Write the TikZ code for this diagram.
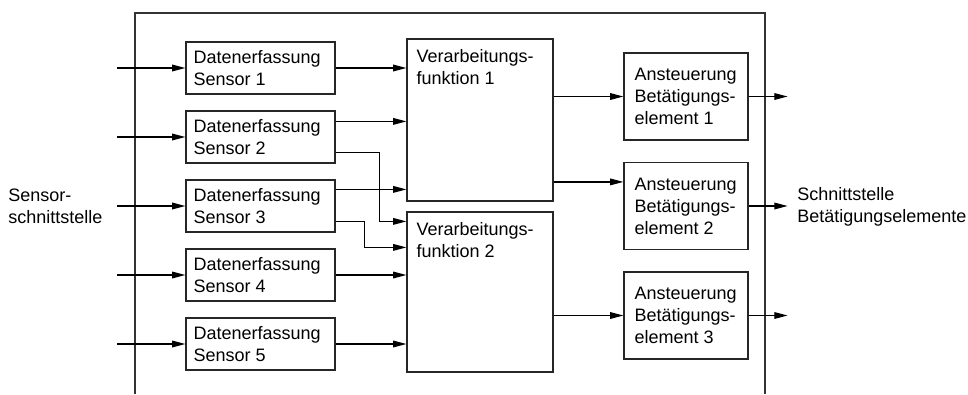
\documentclass[tikz,border=0pt]{standalone}
\usepackage{fontspec}
\setmainfont{Liberation Sans}
\usetikzlibrary{arrows.meta,calc}
\begin{document}
\begin{tikzpicture}[x=0.75pt,y=-0.75pt,
  blk/.style={draw=black!85,line width=0.9pt,inner sep=0pt},
  sbox/.style={blk,minimum width=111.75pt,minimum height=39pt},
  vbox/.style={blk,minimum width=109.5pt},
  abox/.style={blk,minimum width=93pt,minimum height=65.25pt},
  lbl/.style={inner sep=0pt,align=left,font=\fontsize{13.5}{16.5}\selectfont},
  conn/.style={line width=0.9pt,-{Triangle[length=10pt,width=5pt]}},
  frm/.style={line width=0.8pt,draw=black!80}]
\useasboundingbox (0,0) rectangle (968,394);

% frame
\draw[frm] (135,394) -- (135,13) -- (765,13) -- (765,394);

% sensor boxes
\node[sbox] (s1) at (260.5,68) {};
\node[sbox] (s2) at (260.5,137) {};
\node[sbox] (s3) at (260.5,206) {};
\node[sbox] (s4) at (260.5,275) {};
\node[sbox] (s5) at (260.5,344) {};
\foreach \i in {1,...,5}{
  \node[lbl,anchor=west] (s\i t) at ($(s\i.west)+(8,0)$) {Datenerfassung\\Sensor \i};
}

% processing boxes
\node[vbox,minimum height=121.5pt] (vf1) at (480,120) {};
\node[vbox,minimum height=120pt] (vf2) at (480,292) {};
\node[lbl,anchor=north west] (vf1t) at ($(vf1.north west)+(10,11)$) {Verarbeitungs-\\funktion 1};
\node[lbl,anchor=north west] (vf2t) at ($(vf2.north west)+(10,11)$) {Verarbeitungs-\\funktion 2};

% actuator boxes
\node[abox] (a1) at (686,96.5) {};
\node[abox] (a2) at (686,206) {};
\node[abox] (a3) at (686,315.5) {};
\foreach \i in {1,2,3}{
  \node[lbl,anchor=west] (a\i t) at ($(a\i.west)+(11,0)$) {Ansteuerung\\Betätigungs-\\element \i};
}

% outer labels
\node[lbl,anchor=west] (sil) at (8,206) {Sensor-\\schnittstelle};
\node[lbl,anchor=west] (sol) at (797,207) {Schnittstelle\\Betätigungselemente};

% inputs
\foreach \i/\y in {1/68,2/137,3/206,4/275,5/344}{
  \coordinate (in\i) at (117,\y);
  \draw[conn] (in\i) -- (s\i.west);
}

% sensor -> processing
\coordinate (s2a) at ($(s2.north east)+(0,11)$);
\coordinate (s2b) at ($(s2.north east)+(0,42)$);
\coordinate (s3a) at ($(s3.north east)+(0,10)$);
\coordinate (s3b) at ($(s3.north east)+(0,42)$);
\coordinate (v2a) at ($(vf2.north west)+(0,10)$);
\coordinate (v2b) at ($(vf2.north west)+(0,36)$);
\draw[conn] (s1.east) -- (s1.east -| vf1.west);
\draw[conn] (s2a) -- (s2a -| vf1.west);
\draw[conn] (s2b) -- ++(44,0) |- (v2a);
\draw[conn] (s3a) -- (s3a -| vf1.west);
\draw[conn] (s3b) -- ++(29,0) |- (v2b);
\draw[conn] (s4.east) -- (s4.east -| vf2.west);
\draw[conn] (s5.east) -- (s5.east -| vf2.west);

% processing -> actuators
\coordinate (a2a) at ($(a2.north west)+(0,20)$);
\draw[conn] (a1.west -| vf1.east) -- (a1.west);
\draw[conn] (a2a -| vf1.east) -- (a2a);
\draw[conn] (a3.west -| vf2.east) -- (a3.west);

% outputs
\foreach \i in {1,2,3}{
  \coordinate (out\i) at ($(a\i.east)+(39,0)$);
  \draw[conn] (a\i.east) -- (out\i);
}
\end{tikzpicture}
\end{document}
